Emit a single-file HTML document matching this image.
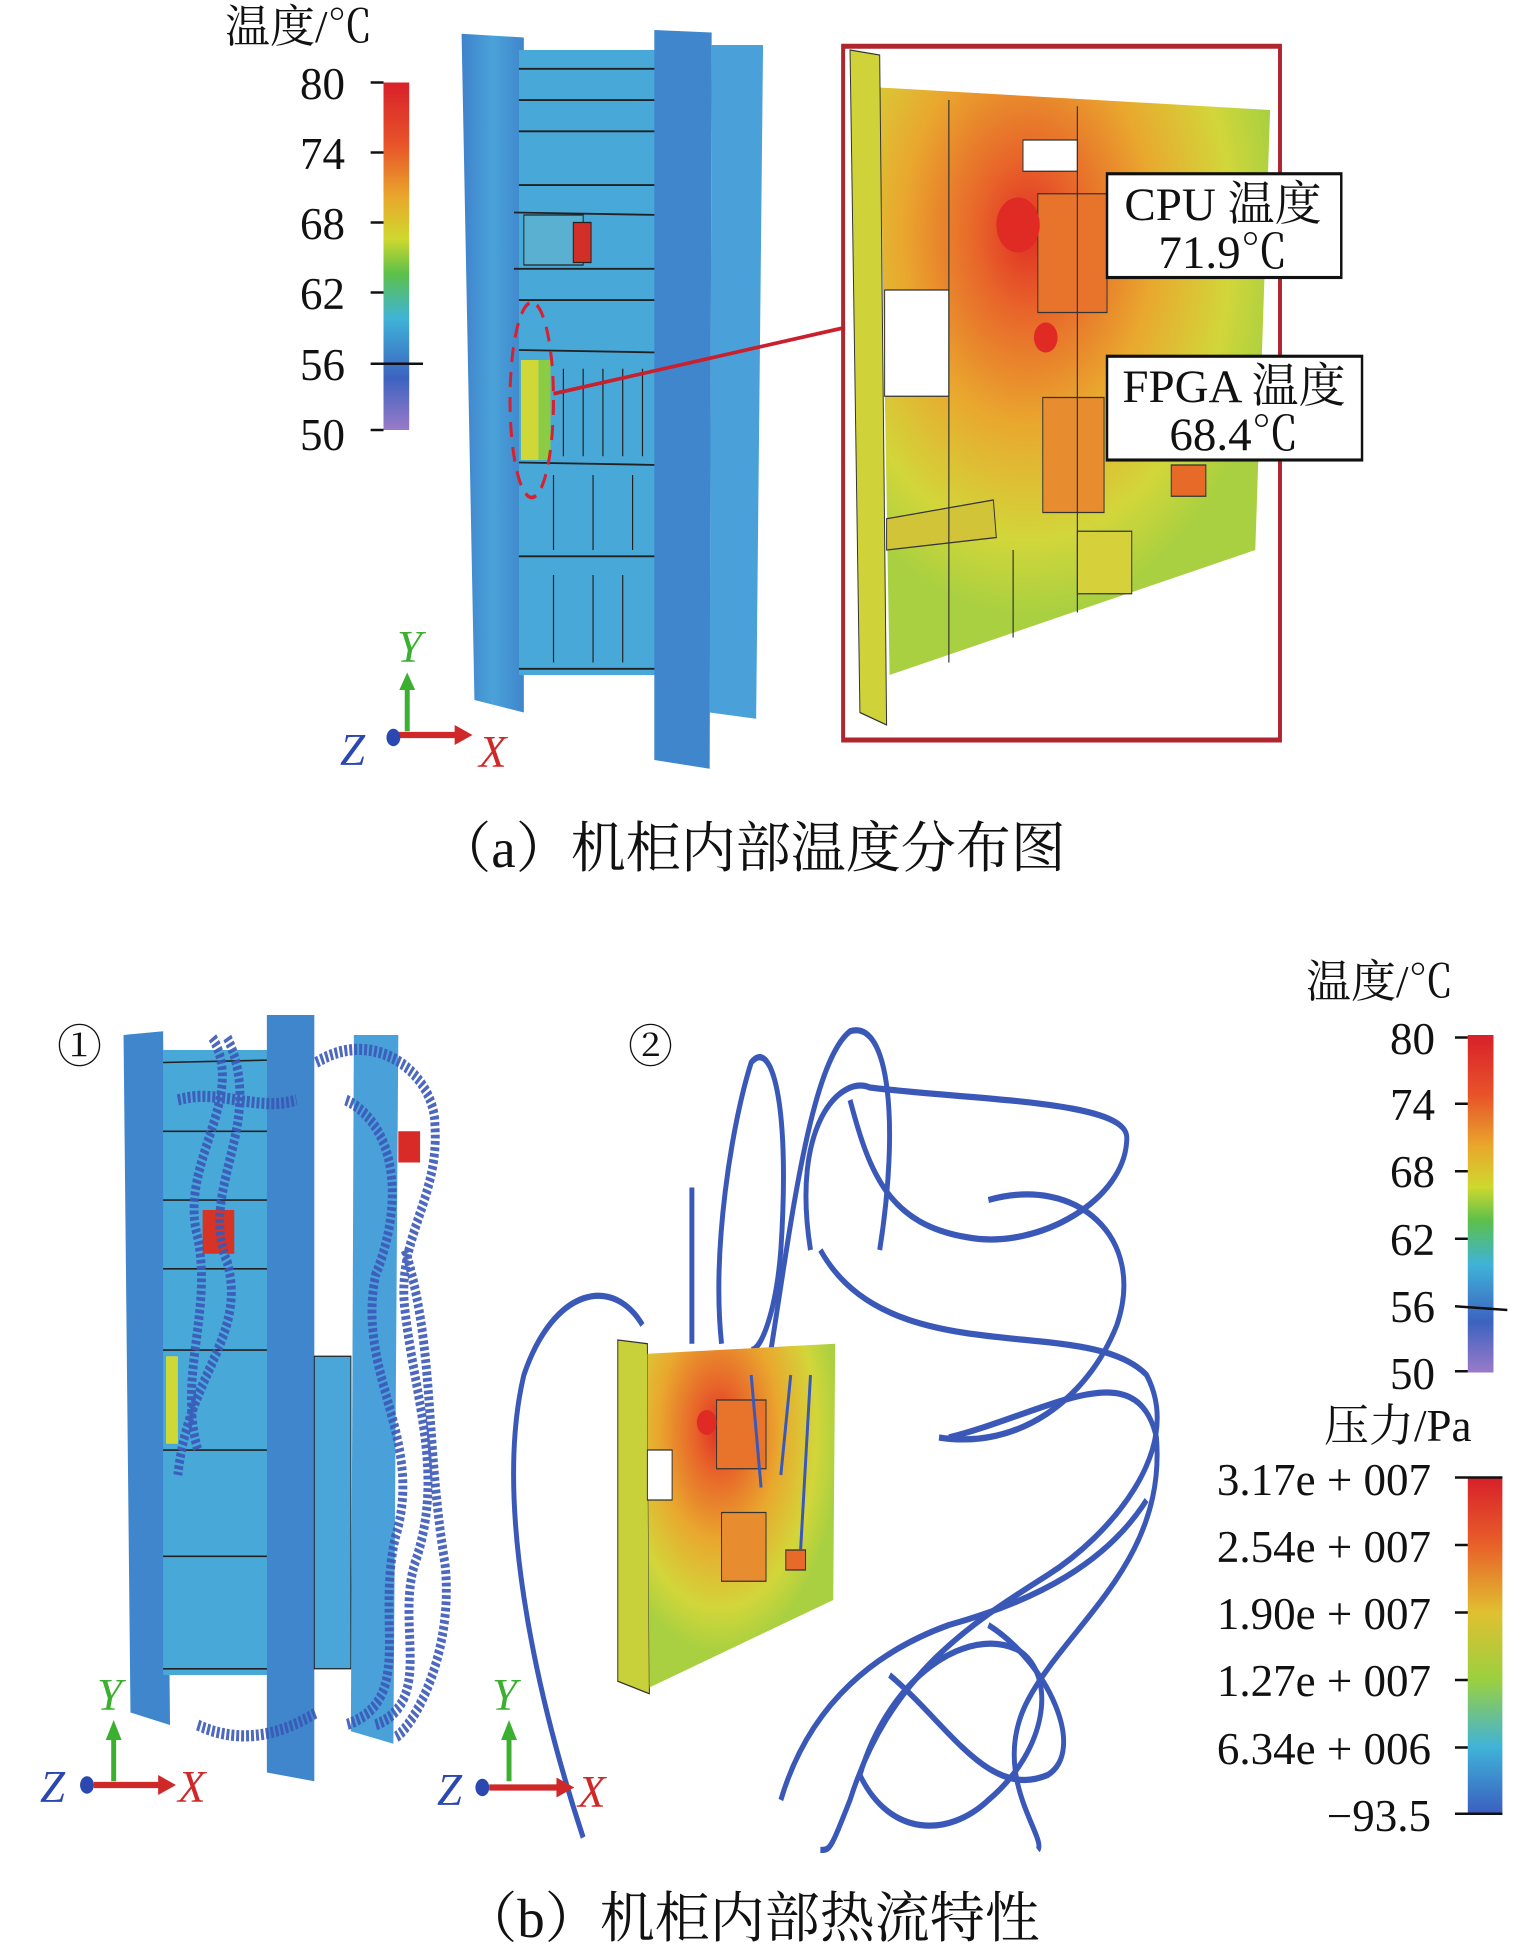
<!DOCTYPE html>
<html><head><meta charset="utf-8"><style>
html,body{margin:0;padding:0;background:#fff;}
svg{display:block;position:absolute;left:0;top:0}
text{font-family:"Liberation Serif","Noto Serif CJK SC","Noto Sans CJK SC",serif;fill:#111}
</style></head><body>
<svg width="1535" height="1950" viewBox="0 0 1553 1560" preserveAspectRatio="none" xmlns="http://www.w3.org/2000/svg">
<defs>
<linearGradient id="cb" x1="0" y1="0" x2="0" y2="1">
<stop offset="0" stop-color="#d8202a"/><stop offset="0.18" stop-color="#e8542a"/><stop offset="0.33" stop-color="#e9a72c"/><stop offset="0.45" stop-color="#cfd82e"/><stop offset="0.55" stop-color="#5cc04a"/><stop offset="0.68" stop-color="#3fb3d8"/><stop offset="0.85" stop-color="#3c63c0"/><stop offset="1" stop-color="#9a7ac8"/>
</linearGradient>
<linearGradient id="pb" x1="0" y1="0" x2="0" y2="1">
<stop offset="0" stop-color="#d8202a"/><stop offset="0.2" stop-color="#e8602a"/><stop offset="0.4" stop-color="#e0c030"/><stop offset="0.6" stop-color="#9ad040"/><stop offset="0.8" stop-color="#3fb3d8"/><stop offset="1" stop-color="#3b5cc0"/>
</linearGradient>
<radialGradient id="hot" cx="0.38" cy="0.25" r="0.65">
<stop offset="0" stop-color="#e03024"/><stop offset="0.2" stop-color="#e8642a"/><stop offset="0.5" stop-color="#e9a82e"/><stop offset="0.8" stop-color="#d2d63a"/><stop offset="1" stop-color="#a8d040"/>
</radialGradient>
<linearGradient id="cab" x1="0" y1="0" x2="1" y2="0"><stop offset="0" stop-color="#3f82cc"/><stop offset="0.5" stop-color="#4aa2d8"/><stop offset="1" stop-color="#3f86cc"/></linearGradient>
</defs>

<rect x="388" y="66" width="26" height="278" fill="url(#cb)"/>
<g stroke="#111" stroke-width="2"><line x1="375" y1="66" x2="388" y2="66"/><line x1="375" y1="122" x2="388" y2="122"/><line x1="375" y1="178" x2="388" y2="178"/><line x1="375" y1="234" x2="388" y2="234"/><line x1="375" y1="291" x2="428" y2="291"/><line x1="375" y1="344" x2="388" y2="344"/></g>

<polygon points="467,27 530,30 530,570 480,560" fill="url(#cab)"/>
<rect x="525" y="40" width="140" height="500" fill="#48a8d8"/>
<g stroke="#222" stroke-width="1.5" fill="none">
<line x1="525" y1="55" x2="665" y2="55"/><line x1="525" y1="80" x2="665" y2="80"/><line x1="525" y1="105" x2="665" y2="105"/><line x1="525" y1="148" x2="665" y2="148"/><line x1="520" y1="170" x2="670" y2="172"/><line x1="520" y1="215" x2="670" y2="215"/><line x1="525" y1="240" x2="665" y2="240"/><line x1="525" y1="280" x2="665" y2="282"/><line x1="525" y1="370" x2="665" y2="372"/><line x1="525" y1="445" x2="665" y2="445"/><line x1="525" y1="535" x2="665" y2="535"/>
</g>
<rect x="530" y="172" width="60" height="40" fill="#5ab0d0" stroke="#222"/><rect x="580" y="178" width="18" height="32" fill="#d03028" stroke="#222"/>
<rect x="527" y="288" width="18" height="80" fill="#d0d838"/><rect x="545" y="288" width="12" height="80" fill="#8ccc44"/>
<g stroke="#222" stroke-width="1.2"><line x1="570" y1="295" x2="570" y2="365"/><line x1="590" y1="295" x2="590" y2="365"/><line x1="610" y1="295" x2="610" y2="365"/><line x1="630" y1="295" x2="630" y2="365"/><line x1="650" y1="295" x2="650" y2="365"/><line x1="560" y1="380" x2="560" y2="440"/><line x1="600" y1="380" x2="600" y2="440"/><line x1="640" y1="380" x2="640" y2="440"/><line x1="560" y1="460" x2="560" y2="530"/><line x1="600" y1="460" x2="600" y2="530"/><line x1="630" y1="460" x2="630" y2="530"/></g>
<polygon points="662,24 720,26 718,615 662,608" fill="#3f86cc"/>
<polygon points="720,36 772,36 765,575 718,570" fill="#4aa0d8"/>
<ellipse cx="538" cy="320" rx="22" ry="78" fill="none" stroke="#d82030" stroke-width="3" stroke-dasharray="12,8"/>
<line x1="560" y1="315" x2="855" y2="262" stroke="#c8202c" stroke-width="3"/>

<polygon points="890,70 1285,88 1270,440 900,540" fill="url(#hot)"/>
<polygon points="860,40 890,44 897,580 870,570" fill="#d0d23a" stroke="#333"/>
<rect x="1035" y="112" width="55" height="25" fill="#fff" stroke="#333"/>
<rect x="895" y="232" width="65" height="85" fill="#fff" stroke="#333"/>
<rect x="1050" y="155" width="70" height="95" fill="#e8742c" stroke="#333"/>
<circle cx="1030" cy="180" r="22" fill="#e02a24"/><circle cx="1058" cy="270" r="12" fill="#e02a24"/>
<rect x="1055" y="318" width="62" height="92" fill="#e88c30" stroke="#333"/>
<rect x="1185" y="372" width="35" height="25" fill="#e86a28" stroke="#333"/>
<rect x="1090" y="425" width="55" height="50" fill="#d6d03a" stroke="#333"/>
<polygon points="897,415 1005,400 1008,430 897,440" fill="#d2c438" stroke="#333"/>
<g stroke="#333" stroke-width="1.2"><line x1="960" y1="80" x2="960" y2="530"/><line x1="1090" y1="85" x2="1090" y2="490"/><line x1="1025" y1="440" x2="1025" y2="510"/></g>
<rect x="853" y="37" width="442" height="555" fill="none" stroke="#b0262f" stroke-width="4"/>
<rect x="1120" y="139" width="237" height="83" fill="#fff" stroke="#111" stroke-width="2.5"/>
<rect x="1120" y="285" width="258" height="83" fill="#fff" stroke="#111" stroke-width="2.5"/>

<line x1="412" y1="585" x2="412" y2="550" stroke="#3bb030" stroke-width="5"/><polygon points="404,552 420,552 412,538" fill="#3bb030"/>
<line x1="400" y1="588" x2="462" y2="588" stroke="#d02828" stroke-width="5"/><polygon points="460,580 478,588 460,596" fill="#d02828"/>
<circle cx="398" cy="590" r="7" fill="#2a48b0"/>

<polygon points="125,828 165,825 172,1380 132,1370" fill="#3f86cc"/>
<rect x="165" y="840" width="110" height="500" fill="#48a8d8"/>
<g stroke="#222" stroke-width="1.3"><line x1="165" y1="850" x2="275" y2="848"/><line x1="165" y1="905" x2="275" y2="905"/><line x1="165" y1="960" x2="275" y2="960"/><line x1="165" y1="1015" x2="275" y2="1015"/><line x1="165" y1="1080" x2="275" y2="1080"/><line x1="165" y1="1160" x2="275" y2="1160"/><line x1="165" y1="1245" x2="275" y2="1245"/><line x1="165" y1="1335" x2="275" y2="1335"/></g>
<rect x="205" y="968" width="32" height="35" fill="#d83426"/>
<rect x="168" y="1085" width="12" height="70" fill="#d0d838"/>
<polygon points="270,812 318,812 318,1425 270,1418" fill="#3f86cc"/>
<polygon points="318,1085 355,1085 355,1335 318,1335" fill="#4aa6d8" stroke="#222"/>
<polygon points="358,828 403,828 398,1395 355,1385" fill="#4aa0d8"/>
<rect x="403" y="905" width="22" height="25" fill="#d82a26"/>
<g fill="none" stroke="#3a58b8" stroke-width="9" stroke-dasharray="3,2" opacity="0.9">
<path d="M215,830 C250,880 180,930 200,990 C215,1050 180,1100 200,1160"/>
<path d="M230,830 C270,900 200,950 230,1010 C250,1070 190,1100 180,1180"/>
<path d="M320,850 C380,820 440,860 440,900 C445,960 400,990 410,1050 C420,1120 450,1180 420,1250 C400,1300 440,1360 380,1380"/>
<path d="M350,880 C400,900 410,960 380,1020 C360,1100 430,1150 400,1230 C380,1300 420,1360 350,1380"/>
<path d="M180,880 C220,870 260,890 300,880"/>
<path d="M200,1380 C240,1395 280,1390 320,1370"/>
<path d="M410,1000 C440,1080 430,1150 450,1250 C460,1320 420,1380 400,1390"/>
</g>
<line x1="115" y1="1425" x2="115" y2="1390" stroke="#3bb030" stroke-width="5"/><polygon points="107,1392 123,1392 115,1376" fill="#3bb030"/>
<line x1="95" y1="1428" x2="162" y2="1428" stroke="#d02828" stroke-width="5"/><polygon points="160,1420 178,1428 160,1436" fill="#d02828"/>
<circle cx="88" cy="1428" r="7" fill="#2a48b0"/>

<g fill="none" stroke="#3a58b8" stroke-width="5">
<path d="M590,1470 C540,1350 500,1200 530,1100 C560,1030 620,1020 650,1060"/>
<path d="M700,1075 L700,950"/>
<path d="M730,1075 C720,1000 740,900 760,850 C780,830 800,880 790,1000 C785,1050 770,1080 760,1080"/>
<path d="M780,1080 C800,980 820,850 860,825 C900,815 910,900 890,1000"/>
<path d="M820,1000 C800,900 850,860 880,870 C980,880 1140,880 1140,910 C1140,960 1050,1000 980,990 C900,980 880,940 860,880"/>
<path d="M830,1000 C900,1100 1100,1050 1160,1100 C1200,1160 1120,1230 1060,1260 C980,1300 900,1340 860,1440 C840,1480 840,1480 830,1480"/>
<path d="M960,1150 C1060,1130 1150,1080 1170,1150 C1180,1250 1080,1300 1040,1360 C1000,1420 1060,1470 1050,1480"/>
<path d="M870,1420 C900,1340 980,1300 1030,1320 C1070,1340 1060,1400 1000,1440 C960,1470 900,1470 870,1420"/>
<path d="M900,1340 C960,1380 1000,1440 1060,1420 C1100,1400 1060,1330 1000,1300"/>
<path d="M790,1440 C820,1360 890,1320 960,1300 C1050,1280 1120,1250 1160,1200"/>
<path d="M950,1150 C1030,1160 1100,1120 1130,1060 C1160,990 1090,940 1000,960"/>
</g>
<polygon points="625,1072 655,1075 657,1355 625,1345" fill="#c8d03a" stroke="#333"/>
<polygon points="655,1083 845,1075 843,1280 657,1350" fill="url(#hot)"/>
<rect x="655" y="1160" width="25" height="40" fill="#fff" stroke="#333"/>
<rect x="725" y="1120" width="50" height="55" fill="#e8742c" stroke="#333"/>
<rect x="730" y="1210" width="45" height="55" fill="#e88c30" stroke="#333"/>
<rect x="795" y="1240" width="20" height="16" fill="#e86a28" stroke="#333"/>
<circle cx="715" cy="1138" r="10" fill="#e02a24"/>
<g stroke="#3a58b8" stroke-width="3"><line x1="800" y1="1100" x2="790" y2="1180"/><line x1="820" y1="1100" x2="810" y2="1240"/><line x1="760" y1="1100" x2="770" y2="1190"/></g>
<line x1="515" y1="1425" x2="515" y2="1390" stroke="#3bb030" stroke-width="5"/><polygon points="507,1392 523,1392 515,1376" fill="#3bb030"/>
<line x1="495" y1="1430" x2="565" y2="1430" stroke="#d02828" stroke-width="5"/><polygon points="563,1422 581,1430 563,1438" fill="#d02828"/>
<circle cx="488" cy="1430" r="7" fill="#2a48b0"/>

<rect x="1485" y="828" width="26" height="270" fill="url(#cb)"/>
<g stroke="#111" stroke-width="2"><line x1="1472" y1="830" x2="1485" y2="830"/><line x1="1472" y1="883" x2="1485" y2="883"/><line x1="1472" y1="937" x2="1485" y2="937"/><line x1="1472" y1="991" x2="1485" y2="991"/><line x1="1472" y1="1045" x2="1525" y2="1048"/><line x1="1472" y1="1097" x2="1485" y2="1097"/></g>
<rect x="1485" y="1182" width="35" height="270" fill="url(#pb)"/>
<g stroke="#111" stroke-width="2"><line x1="1472" y1="1182" x2="1520" y2="1182"/><line x1="1472" y1="1236" x2="1485" y2="1236"/><line x1="1472" y1="1290" x2="1485" y2="1290"/><line x1="1472" y1="1344" x2="1485" y2="1344"/><line x1="1472" y1="1398" x2="1485" y2="1398"/><line x1="1472" y1="1451" x2="1520" y2="1451"/></g>
</svg>

<svg width="1535" height="1950" viewBox="0 0 1535 1950" xmlns="http://www.w3.org/2000/svg">
<text x="225" y="42" font-size="45">温度/℃</text>
<g font-size="45"><text x="300" y="99">80</text><text x="300" y="169">74</text><text x="300" y="239">68</text><text x="300" y="309">62</text><text x="300" y="380">56</text><text x="300" y="450">50</text></g>
<g font-size="47" text-anchor="middle"><text x="1223" y="220">CPU 温度</text><text x="1223" y="268">71.9℃</text><text x="1234" y="402">FPGA 温度</text><text x="1234" y="450">68.4℃</text></g>
<g font-size="45" font-style="italic"><text x="397" y="662" style="fill:#3bb030">Y</text><text x="340" y="765" style="fill:#2a48b0">Z</text><text x="479" y="767" style="fill:#d02828">X</text>
<text x="97" y="1710" style="fill:#3bb030">Y</text><text x="40" y="1802" style="fill:#2a48b0">Z</text><text x="178" y="1802" style="fill:#d02828">X</text>
<text x="492" y="1710" style="fill:#3bb030">Y</text><text x="437" y="1805" style="fill:#2a48b0">Z</text><text x="578" y="1807" style="fill:#d02828">X</text></g>
<text x="751" y="867" font-size="55" text-anchor="middle">（a）机柜内部温度分布图</text>
<g font-size="45"><text x="57" y="1062">①</text><text x="628" y="1062">②</text></g>
<text x="1306" y="997" font-size="45">温度/℃</text>
<g font-size="45" text-anchor="end"><text x="1435" y="1054">80</text><text x="1435" y="1120">74</text><text x="1435" y="1187">68</text><text x="1435" y="1255">62</text><text x="1435" y="1322">56</text><text x="1435" y="1389">50</text></g>
<text x="1324" y="1441" font-size="45">压力/Pa</text>
<g font-size="45" text-anchor="end"><text x="1431" y="1495">3.17e + 007</text><text x="1431" y="1562">2.54e + 007</text><text x="1431" y="1629">1.90e + 007</text><text x="1431" y="1696">1.27e + 007</text><text x="1431" y="1764">6.34e + 006</text><text x="1431" y="1831">−93.5</text></g>
<text x="751" y="1937" font-size="55" text-anchor="middle">（b）机柜内部热流特性</text>
</svg>
</body></html>
